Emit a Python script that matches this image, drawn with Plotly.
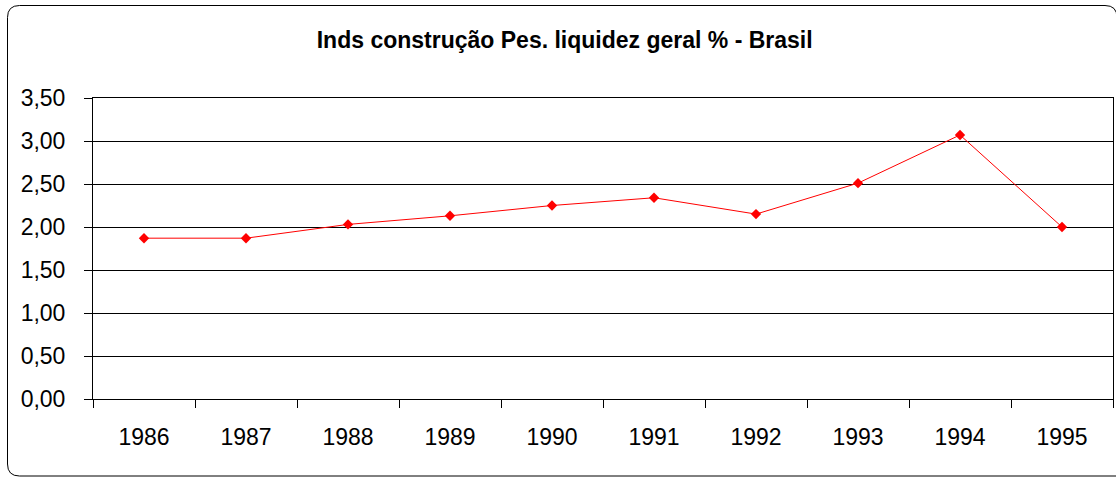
import plotly.graph_objects as go

# dados
anos = ["1986", "1987", "1988", "1989", "1990", "1991", "1992", "1993", "1994", "1995"]
liquidez = [1.87, 1.87, 2.03, 2.13, 2.25, 2.34, 2.15, 2.51, 3.07, 2.00]
y_ticks = [0, 0.5, 1.0, 1.5, 2.0, 2.5, 3.0, 3.5]

W, H = 1116, 479
ML, MR, MT, MB = 93, 3, 98, 80
pw, ph = W - ML - MR, H - MT - MB


def px_x(v):
    return (v - ML) / pw


def px_y(v):
    return (H - MB - v) / ph


fig = go.Figure()

fig.add_trace(go.Scatter(
    x=anos,
    y=liquidez,
    mode="lines+markers",
    line=dict(color="#FF0000", width=1),
    marker=dict(symbol="diamond", size=8, color="#FF0000"),
    showlegend=False,
))

# moldura arredondada em volta do gráfico
x0, x1 = px_x(7.5), px_x(1117)
y0, y1 = px_y(476), px_y(5.5)
rx, ry = 12 / pw, 12 / ph
path = (
    f"M {x0 + rx} {y1} L {x1 - rx} {y1} Q {x1} {y1} {x1} {y1 - ry} "
    f"L {x1} {y0} L {x0 + rx} {y0} Q {x0} {y0} {x0} {y0 + ry} "
    f"L {x0} {y1 - ry} Q {x0} {y1} {x0 + rx} {y1} Z"
)
fig.add_shape(type="path", path=path, xref="paper", yref="paper",
              line=dict(color="#000000", width=1), layer="below")

fig.update_layout(
    width=W,
    height=H,
    margin=dict(l=ML, r=MR, t=MT, b=MB),
    paper_bgcolor="white",
    plot_bgcolor="white",
    separators=",.",
    font=dict(family="Liberation Sans, Arial, sans-serif", size=23, color="#000000"),
    title=dict(
        text="<b>Inds construção Pes. liquidez geral % - Brasil</b>",
        x=0.506, xanchor="center",
        y=1 - 40 / H, yanchor="middle", yref="container",
        font=dict(size=23, color="#000000"),
    ),
)

fig.update_xaxes(
    type="category",
    range=[-0.5, 9.5],
    tickson="boundaries",
    ticks="outside",
    ticklen=8,
    tickcolor="#000000",
    showline=True,
    linecolor="#000000",
    linewidth=1,
    mirror=True,
    showgrid=False,
    ticklabelstandoff=17,
)

fig.update_yaxes(
    range=[0, 3.5],
    tickvals=y_ticks,
    tickformat=".2f",
    ticks="outside",
    ticklen=8,
    tickcolor="#000000",
    showline=True,
    linecolor="#000000",
    linewidth=1,
    mirror=True,
    showgrid=True,
    gridcolor="#000000",
    gridwidth=1,
    zeroline=False,
    ticklabelstandoff=14,
)

fig.write_html("out.html", config={"displayModeBar": False},
               post_script="document.body.style.margin = '0';")
